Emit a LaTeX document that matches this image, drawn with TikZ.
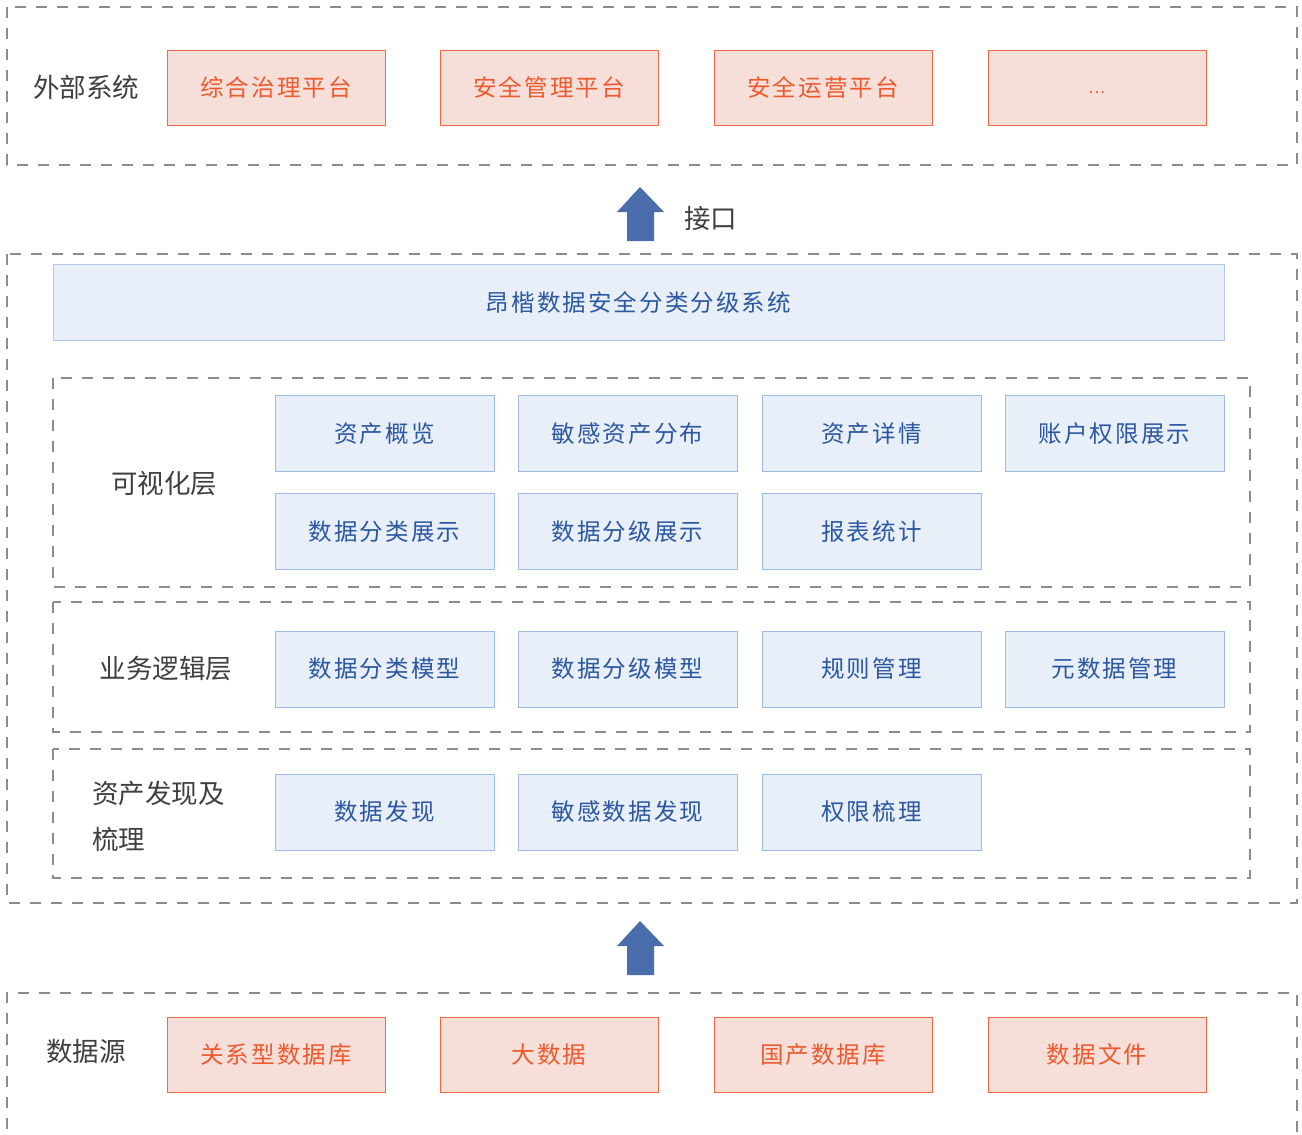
\documentclass[tikz,border=0pt]{standalone}
\usepackage{fontspec}
\setmainfont{Noto Sans CJK SC}
\newfontfamily\boxfont[LetterSpace=9]{Noto Sans CJK SC}
\newfontfamily\labfont{Noto Sans CJK SC}
\definecolor{dashgray}{HTML}{8C8C8C}
\definecolor{redline}{HTML}{EE6A45}
\definecolor{redfill}{HTML}{F6DED9}
\definecolor{redtext}{HTML}{EC5A2E}
\definecolor{bluefill}{HTML}{E8EFF9}
\definecolor{blueline}{HTML}{9DBBE3}
\definecolor{bluetext}{HTML}{2B58A0}
\definecolor{labgray}{HTML}{3F3F3F}
\definecolor{arrowblue}{HTML}{4A6EAC}
\begin{document}
\begin{tikzpicture}[x=1pt,y=-1pt,
  outerbox/.style={draw=dashgray, dash pattern=on 11pt off 10pt, line width=1.1pt},
  redbox/.style={draw=redline, fill=redfill, text=redtext, line width=1pt,
    minimum width=218pt, minimum height=75pt, inner sep=0pt,
    font=\boxfont\fontsize{23.5}{27}\selectfont},
  bluebox/.style={draw=blueline, fill=bluefill, text=bluetext, line width=0.8pt,
    minimum width=219pt, minimum height=76pt, inner sep=0pt,
    font=\boxfont\fontsize{23.5}{27}\selectfont},
  lab/.style={text=labgray, font=\labfont\fontsize{26.5}{46.5}\selectfont, inner sep=0pt},
  bigarrow/.style={fill=arrowblue, draw=none}
]
\useasboundingbox (0,0) rectangle (1302,1135);
\fill[white] (0,0) rectangle (1302,1135);

% external systems
\draw[outerbox] (7,7) rectangle (1297,165);
\node[lab] (ext) at (86,87) {外部系统};
\node[redbox] (e1) at (276,87.5) {综合治理平台};
\node[redbox] (e2) at (549,87.5) {安全管理平台};
\node[redbox] (e3) at (823,87.5) {安全运营平台};
\node[redbox] (e4) at (1097,87.5) {\raisebox{-6pt}[0pt][0pt]{\fontsize{16}{16}\selectfont ...}};

% arrow 1
\fill[bigarrow] (640,187) -- (664,212) -- (654,212) -- (654,241) -- (627,241) -- (627,212) -- (617,212) -- cycle;
\node[lab, anchor=west] (iface) at (684,218) {接口};

% main system
\draw[outerbox] (7,254) rectangle (1297,903);
\node[bluebox, minimum width=1171pt, minimum height=76pt, draw=blueline!80] (sys) at (638.5,302) {昂楷数据安全分类分级系统};

% visualization layer
\draw[outerbox] (53,378) rectangle (1250,587);
\node[lab] (vis) at (164,484) {可视化层};
\node[bluebox] (v1) at (384.5,433.5) {资产概览};
\node[bluebox] (v2) at (627.5,433.5) {敏感资产分布};
\node[bluebox] (v3) at (871.5,433.5) {资产详情};
\node[bluebox] (v4) at (1114.5,433.5) {账户权限展示};
\node[bluebox] (v5) at (384.5,531.5) {数据分类展示};
\node[bluebox] (v6) at (627.5,531.5) {数据分级展示};
\node[bluebox] (v7) at (871.5,531.5) {报表统计};

% business logic layer
\draw[outerbox] (53,602) rectangle (1250,732);
\node[lab] (biz) at (166,669) {业务逻辑层};
\node[bluebox] (b1) at (384.5,669) {数据分类模型};
\node[bluebox] (b2) at (627.5,669) {数据分级模型};
\node[bluebox] (b3) at (871.5,669) {规则管理};
\node[bluebox] (b4) at (1114.5,669) {元数据管理};

% asset discovery layer
\draw[outerbox] (53,749) rectangle (1250,878);
\node[lab, anchor=west] (asset1) at (92,793) {资产发现及};
\node[lab, anchor=west] (asset2) at (92,839) {梳理};
\node[bluebox] (a1) at (384.5,812) {数据发现};
\node[bluebox] (a2) at (627.5,812) {敏感数据发现};
\node[bluebox] (a3) at (871.5,812) {权限梳理};

% arrow 2
\fill[bigarrow] (640,921) -- (664,946) -- (654,946) -- (654,975) -- (627,975) -- (627,946) -- (617,946) -- cycle;

% data sources
\draw[outerbox] (7,1150) -- (7,993) -- (1297,993) -- (1297,1150);
\node[lab] (src) at (86,1051) {数据源};
\node[redbox] (d1) at (276,1054.5) {关系型数据库};
\node[redbox] (d2) at (549,1054.5) {大数据};
\node[redbox] (d3) at (823,1054.5) {国产数据库};
\node[redbox] (d4) at (1097,1054.5) {数据文件};
\end{tikzpicture}
\end{document}
